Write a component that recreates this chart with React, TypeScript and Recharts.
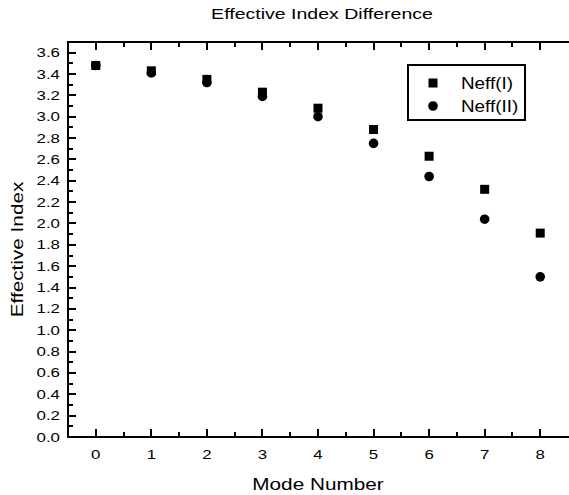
import { ScatterChart, Scatter, XAxis, YAxis, Legend } from "recharts";

const modes = [0, 1, 2, 3, 4, 5, 6, 7, 8];
const neffI = [3.48, 3.43, 3.35, 3.23, 3.08, 2.88, 2.63, 2.32, 1.91];
const neffII = [3.48, 3.41, 3.32, 3.19, 3.0, 2.75, 2.44, 2.04, 1.5];
const seriesNames = ["Neff(I)", "Neff(II)"];

const xDomain = [-0.5, 8.5];
const yDomain = [0, 3.7];
const xMajor = [0, 1, 2, 3, 4, 5, 6, 7, 8];
const xMinor = [0.5, 1.5, 2.5, 3.5, 4.5, 5.5, 6.5, 7.5];
const yMajor = [0, 0.2, 0.4, 0.6, 0.8, 1.0, 1.2, 1.4, 1.6, 1.8, 2.0, 2.2, 2.4, 2.6, 2.8, 3.0, 3.2, 3.4, 3.6];
const yMinor = [0.1, 0.3, 0.5, 0.7, 0.9, 1.1, 1.3, 1.5, 1.7, 1.9, 2.1, 2.3, 2.5, 2.7, 2.9, 3.1, 3.3, 3.5];

const FONT = "'Liberation Sans', Arial, Helvetica, sans-serif";
const INK = "#000";
const FW = 2; // frame + tick line weight

const dataI = modes.map((m, i) => ({ x: m, y: neffI[i] }));
const dataII = modes.map((m, i) => ({ x: m, y: neffII[i] }));

const isMajor = (list: number[], v: number) => list.some(t => Math.abs(t - v) < 1e-6);

// tick labels only (bottom / left majors)
function makeLabelTick(side: "left" | "bottom", major: number[]) {
  return (props: any) => {
    const { x, y, payload } = props;
    if (!isMajor(major, payload.value)) return <g />;
    if (side === "left") {
      return (
        <text transform={`translate(${x - 8},${y + 4.5}) scale(1.35,1)`} textAnchor="end"
          fontFamily={FONT} fontSize={12.5} fill={INK}>
          {payload.value.toFixed(1)}
        </text>
      );
    }
    return (
      <text transform={`translate(${x},${y + 21.5}) scale(1.35,1)`} textAnchor="middle"
        fontFamily={FONT} fontSize={12.5} fill={INK}>
        {String(payload.value)}
      </text>
    );
  };
}

// frame edge plus inward tick marks, drawn inside the axis box
function edge(side: "left" | "right" | "top" | "bottom", vb: any) {
  const horiz = side === "top" || side === "bottom";
  const dom = horiz ? xDomain : yDomain;
  const all = horiz ? [...xMajor, ...xMinor] : [...yMajor, ...yMinor];
  const major = horiz ? xMajor : yMajor;
  const ex = side === "left" ? vb.x + vb.width : vb.x;
  const ey = side === "top" ? vb.y + vb.height : vb.y;
  const marks = all.map((v, i) => {
    const len = isMajor(major, v) ? 8 : 5;
    const f = (v - dom[0]) / (dom[1] - dom[0]);
    if (horiz) {
      const px = Math.round(vb.x + f * vb.width);
      const y0 = side === "top" ? ey : ey - len;
      return <rect key={i} x={px - FW / 2} y={y0} width={FW} height={len} fill={INK} />;
    }
    const py = Math.round(vb.y + vb.height - f * vb.height);
    const x0 = side === "left" ? ex : ex - len;
    return <rect key={i} x={x0} y={py - FW / 2} width={len} height={FW} fill={INK} />;
  });
  return (
    <g>
      {horiz ? (
        <rect x={vb.x - FW / 2} y={ey - FW / 2} width={vb.width + FW} height={FW} fill={INK} />
      ) : (
        <rect x={ex - FW / 2} y={vb.y - FW / 2} width={FW} height={vb.height + FW} fill={INK} />
      )}
      {marks}
    </g>
  );
}

const squareShape = (p: any) => <rect x={p.cx - 4.5} y={p.cy - 4.5} width={9} height={9} fill={INK} />;
const circleShape = (p: any) => <circle cx={p.cx} cy={p.cy} r={4.8} fill={INK} />;

function LegendBox() {
  return (
    <svg width={119} height={57} style={{ display: "block" }}>
      <rect x={0} y={0} width={119} height={57} fill={INK} />
      <rect x={2} y={2} width={115} height={53} fill="#fff" />
      <rect x={21.5} y={14.5} width={9} height={9} fill={INK} />
      <text transform="translate(54,25) scale(1.18,1)" fontFamily={FONT} fontSize={16} fill={INK}>{seriesNames[0]}</text>
      <circle cx={26} cy={42} r={4.8} fill={INK} />
      <text transform="translate(54,48) scale(1.18,1)" fontFamily={FONT} fontSize={16} fill={INK}>{seriesNames[1]}</text>
    </svg>
  );
}

export default function App() {
  return (
    <div style={{ position: "absolute", left: 0, top: 0, background: "#fff" }}>
      <ScatterChart width={569} height={495} margin={{ top: 0, right: 1, bottom: 0, left: 0 }}>
        <XAxis
          xAxisId="b" type="number" dataKey="x" orientation="bottom"
          domain={xDomain} ticks={xMajor} interval={0}
          height={58} tickSize={0} tickMargin={0} tickLine={false} axisLine={false}
          tick={makeLabelTick("bottom", xMajor)}
          label={{
            content: (p: any) => (
              <g>
                {edge("bottom", p.viewBox)}
                <text transform={`translate(${p.viewBox.x + p.viewBox.width / 2},${p.viewBox.y + 53}) scale(1.22,1)`}
                  textAnchor="middle" fontFamily={FONT} fontSize={17} fill={INK}>Mode Number</text>
              </g>
            ),
          }}
        />
        <XAxis
          xAxisId="t" type="number" dataKey="x" orientation="top"
          domain={xDomain} ticks={xMajor} interval={0}
          height={42} tick={false} tickLine={false} axisLine={false}
          label={{
            content: (p: any) => (
              <g>
                {edge("top", p.viewBox)}
                <text transform={`translate(${p.viewBox.x + p.viewBox.width / 2 + 4},19) scale(1.26,1)`}
                  textAnchor="middle" fontFamily={FONT} fontSize={15.5} fill={INK}>Effective Index Difference</text>
              </g>
            ),
          }}
        />
        <YAxis
          yAxisId="l" type="number" dataKey="y" orientation="left"
          domain={yDomain} ticks={yMajor} interval={0}
          width={68} tickSize={0} tickMargin={0} tickLine={false} axisLine={false}
          tick={makeLabelTick("left", yMajor)}
          label={{
            content: (p: any) => (
              <g>
                {edge("left", p.viewBox)}
                <text transform={`translate(23,${p.viewBox.y + p.viewBox.height / 2 + 10}) rotate(-90) scale(1.22,1)`}
                  textAnchor="middle" fontFamily={FONT} fontSize={17} fill={INK}>Effective Index</text>
              </g>
            ),
          }}
        />
        <YAxis
          yAxisId="r" type="number" dataKey="y" orientation="right"
          domain={yDomain} ticks={yMajor} interval={0}
          width={0} tick={false} tickLine={false} axisLine={false}
          label={{ content: (p: any) => edge("right", p.viewBox) }}
        />
        <Legend
          layout="vertical" align="center" verticalAlign="middle"
          wrapperStyle={{ left: 407, top: 64, width: 119, height: 57 }}
          content={() => <LegendBox />}
        />
        <Scatter name={seriesNames[1]} data={dataII} xAxisId="t" yAxisId="r" fill={INK}
          shape={circleShape} isAnimationActive={false} />
        <Scatter name={seriesNames[0]} data={dataI} xAxisId="b" yAxisId="l" fill={INK}
          shape={squareShape} isAnimationActive={false} />
      </ScatterChart>
    </div>
  );
}
